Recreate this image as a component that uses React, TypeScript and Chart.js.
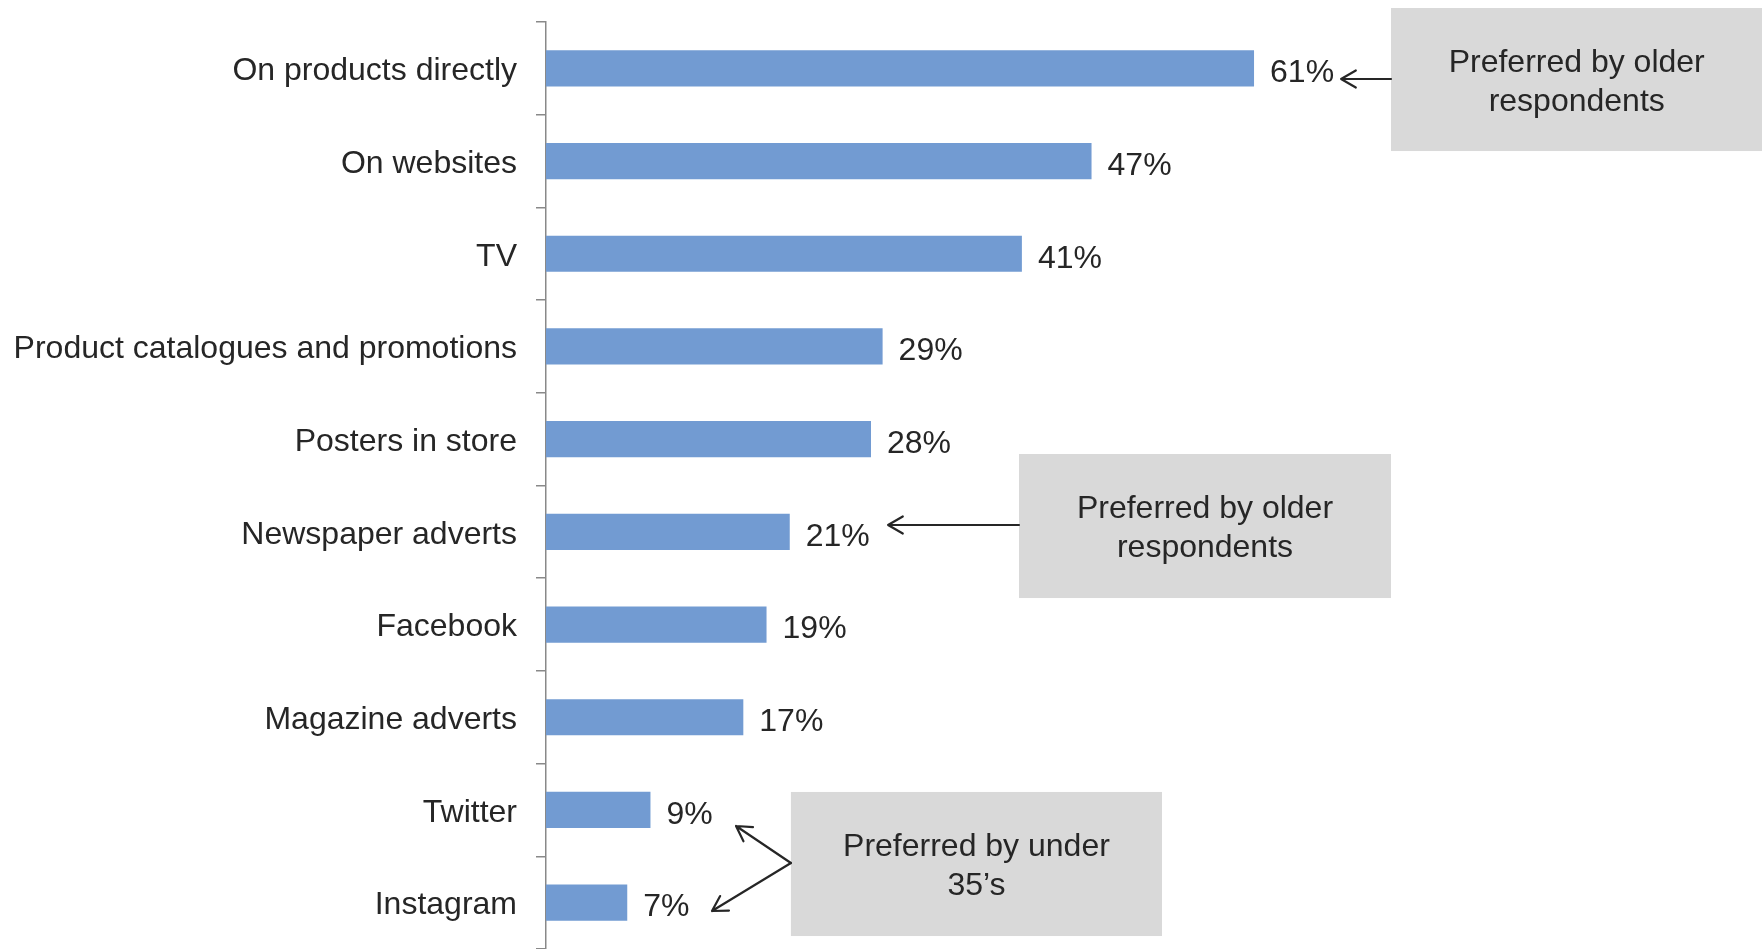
import React, { useEffect, useRef } from "react";
import { Chart, registerables } from "chart.js";

Chart.register(...registerables);

const categories = [
  "On products directly",
  "On websites",
  "TV",
  "Product catalogues and promotions",
  "Posters in store",
  "Newspaper adverts",
  "Facebook",
  "Magazine adverts",
  "Twitter",
  "Instagram",
];
const values = [61, 47, 41, 29, 28, 21, 19, 17, 9, 7];

const boxOlder1Text = ["Preferred by older", "respondents"];
const boxOlder2Text = ["Preferred by older", "respondents"];
const boxUnder35Text = ["Preferred by under", "35\u2019s"];

const FONT = "'Liberation Sans', Arial, Helvetica, sans-serif";
const TEXT = "#262626";
const BAR = "#729BD2";
const BOX = "#D9D9D9";

// annotations in data units: x in %, y in category index units
const annotations = [
  {
    box: { x0: 72.8, x1: 104.8, y0: -0.651, y1: 0.892 },
    text: boxOlder1Text,
    arrows: [{ from: [72.8, 0.115], to: [68.5, 0.115] }],
  },
  {
    box: { x0: 40.75, x1: 72.8, y0: 4.16, y1: 5.714 },
    text: boxOlder2Text,
    arrows: [{ from: [40.75, 4.926], to: [29.47, 4.926] }],
  },
  {
    box: { x0: 21.1, x1: 53.07, y0: 7.806, y1: 9.36 },
    text: boxUnder35Text,
    arrows: [
      { from: [21.1, 8.572], to: [16.37, 8.173] },
      { from: [21.1, 8.572], to: [14.3, 9.09] },
    ],
  },
];

const valueLabels = {
  id: "valueLabels",
  afterDatasetsDraw(chart: any) {
    const ctx = chart.ctx;
    const meta = chart.getDatasetMeta(0);
    ctx.save();
    ctx.font = `32px ${FONT}`;
    ctx.fillStyle = TEXT;
    ctx.textAlign = "left";
    ctx.textBaseline = "middle";
    meta.data.forEach((el: any, i: number) => {
      ctx.fillText(`${values[i]}%`, el.x + 16, el.y + 5);
    });
    ctx.restore();
  },
};

const notes = {
  id: "notes",
  afterDraw(chart: any) {
    const ctx = chart.ctx;
    const xs = chart.scales.x;
    const ys = chart.scales.y;
    const px = (v: number) => xs.getPixelForValue(v);
    const py = (v: number) => ys.getPixelForValue(v);
    ctx.save();
    annotations.forEach((a) => {
      const x0 = px(a.box.x0), x1 = px(a.box.x1);
      const y0 = py(a.box.y0), y1 = py(a.box.y1);
      ctx.fillStyle = BOX;
      ctx.fillRect(x0, y0, x1 - x0, y1 - y0);
      ctx.fillStyle = TEXT;
      ctx.font = `32px ${FONT}`;
      ctx.textAlign = "center";
      ctx.textBaseline = "middle";
      const cx = (x0 + x1) / 2, cy = (y0 + y1) / 2 + 3;
      const lh = 39;
      a.text.forEach((t, i) => {
        ctx.fillText(t, cx, cy + (i - (a.text.length - 1) / 2) * lh);
      });
      ctx.strokeStyle = TEXT;
      ctx.lineWidth = 2.2;
      ctx.lineCap = "round";
      ctx.lineJoin = "round";
      a.arrows.forEach((ar) => {
        const fx = px(ar.from[0]), fy = py(ar.from[1]);
        const tx = px(ar.to[0]), ty = py(ar.to[1]);
        ctx.beginPath();
        ctx.moveTo(fx, fy);
        ctx.lineTo(tx, ty);
        const ang = Math.atan2(ty - fy, tx - fx);
        const hl = 17, ha = Math.PI / 6;
        ctx.moveTo(tx - hl * Math.cos(ang - ha), ty - hl * Math.sin(ang - ha));
        ctx.lineTo(tx, ty);
        ctx.lineTo(tx - hl * Math.cos(ang + ha), ty - hl * Math.sin(ang + ha));
        ctx.stroke();
      });
    });
    ctx.restore();
  },
};

export default function App() {
  const ref = useRef<HTMLCanvasElement | null>(null);
  useEffect(() => {
    if (!ref.current) return;
    const chart = new Chart(ref.current, {
      type: "bar",
      data: {
        labels: categories,
        datasets: [
          {
            data: values,
            backgroundColor: BAR,
            borderWidth: 0,
            barPercentage: 0.39,
            categoryPercentage: 1,
          },
        ],
      },
      options: {
        indexAxis: "y",
        responsive: false,
        animation: false,
        layout: { padding: { top: 22, bottom: 0, left: 0, right: 403.5 } },
        plugins: { legend: { display: false }, tooltip: { enabled: false } },
        scales: {
          x: { display: false, min: 0, max: 70 },
          y: {
            afterFit: (s: any) => {
              s.width = 546;
              s.paddingTop = 0;
              s.paddingBottom = 0;
            },
            grid: {
              drawOnChartArea: false,
              drawTicks: true,
              tickLength: 10,
              color: "#898989",
              lineWidth: 1.5,
              offset: true,
            },
            border: { display: true, color: "#898989", width: 1.5 },
            ticks: {
              padding: 19,
              labelOffset: 3,
              color: TEXT,
              font: { family: FONT, size: 32 },
            },
          },
        },
      },
      plugins: [valueLabels, notes],
    });
    return () => chart.destroy();
  }, []);
  return (
    <div style={{ position: "absolute", left: 0, top: 0, width: 1762, height: 949 }}>
      <canvas ref={ref} width={1762} height={949} style={{ width: 1762, height: 949 }} />
    </div>
  );
}
